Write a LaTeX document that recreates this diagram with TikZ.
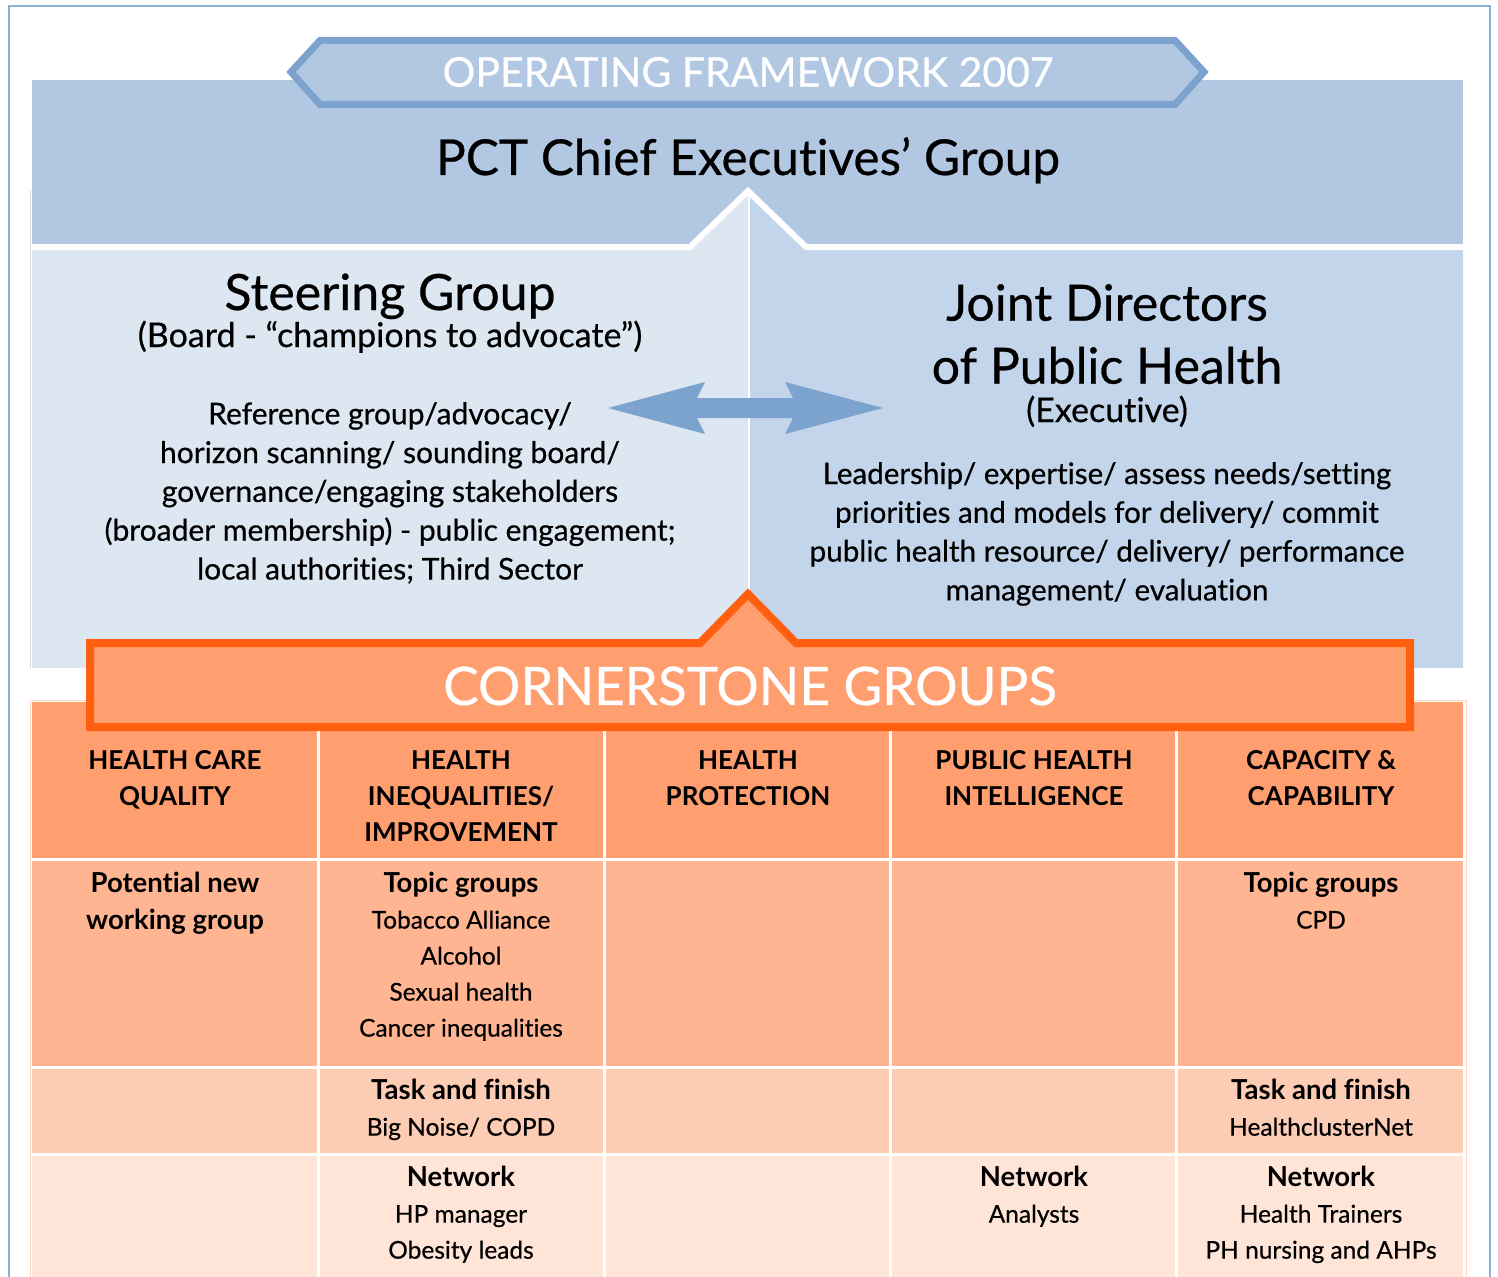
\documentclass[tikz,border=0pt]{standalone}
\usepackage{fontspec}
\setmainfont{Lato}[UprightFeatures={FakeBold=0.5}, Ligatures={NoCommon}]
\definecolor{frameblue}{HTML}{8DB0D8}
\definecolor{topblue}{HTML}{B2C7E1}
\definecolor{hexborder}{HTML}{7BA3CE}
\definecolor{leftpanel}{HTML}{DDE7F2}
\definecolor{rightpanel}{HTML}{C3D5EA}
\definecolor{orangeborder}{HTML}{FF5F0E}
\definecolor{orangefill}{HTML}{FF9E6E}
\definecolor{rowtwo}{HTML}{FFB592}
\definecolor{rowthree}{HTML}{FDCCB4}
\definecolor{rowfour}{HTML}{FEE5D8}
\newcommand\fs[2]{\fontsize{#1}{#2}\selectfont}
\newcommand\celltitlefont{\fontsize{27.5}{36}\selectfont\bfseries}
\begin{document}
\begin{tikzpicture}[x=1pt,y=-1pt,
  txt/.style={inner sep=0pt, text=black},
  mtxt/.style={inner sep=0pt, text=black, align=center, anchor=north},
  headtxt/.style={mtxt, font=\fs{26}{36}\bfseries},
  celltxt/.style={mtxt, font=\fs{24.5}{36}},
  celltitle/.style={font=\fs{27.5}{36.5}\bfseries},
  gridline/.style={white, line width=3pt}
]
\useasboundingbox (0,0) rectangle (1498,1276);
\fill[white] (0,0) rectangle (1498,1276);
% outer frame
\draw[frameblue, line width=2.5pt] (9,6) rectangle (1490,1300);

% top band
\fill[topblue] (32,80) rectangle (1463,247);
% lower panels
\fill[leftpanel] (32,247) -- (690,247) -- (748,191) -- (748,668) -- (32,668) -- cycle;
\fill[rightpanel] (748,191) -- (806,247) -- (1463,247) -- (1463,668) -- (748,668) -- cycle;
\draw[white, line width=6pt, line join=miter] (32,247) -- (690,247) -- (748,191) -- (806,247) -- (1463,247);
\draw[white, line width=2.5pt] (749,193) -- (749,620);
\draw[black!15, line width=0.6pt] (30,190) -- (30,668);

% banner hexagon
\draw[hexborder, fill=topblue, line width=7pt, line join=miter]
  (291,72) -- (320,40.5) -- (1175,40.5) -- (1204,72) -- (1175,104.5) -- (320,104.5) -- cycle;
\node[txt, text=white, font=\fs{41}{44}] (opf) at (748,72) {OPERATING FRAMEWORK 2007};

\node[txt, anchor=base, font=\fs{49.5}{52}] (pct) at (748,175) {PCT Chief Executives’ Group};

% double arrow
\fill[hexborder] (608,408) -- (705,382) -- (697,398) -- (793,398) -- (785,382) -- (883,408)
  -- (785,434) -- (793,418) -- (697,418) -- (705,434) -- cycle;

% steering group
\node[txt, anchor=base, font=\fs{50}{52}] (sgt) at (390,310) {Steering Group};
\node[txt, anchor=base, font=\fs{34}{36}] (sgs) at (390,347) {(Board - “champions to advocate”)};
\node[mtxt, font=\fs{30}{38.8}] (sgb) at (390,402) {Reference group/advocacy/\\horizon scanning/ sounding board/\\governance/engaging stakeholders\\(broader membership) - public engagement;\\local authorities; Third Sector};

% joint directors
\node[mtxt, font=\fs{50}{63}] (jdt) at (1107,284) {Joint Directors\\of Public Health};
\node[txt, anchor=base, font=\fs{34}{36}] (jds) at (1107,422) {(Executive)};
\node[mtxt, font=\fs{29.6}{38.8}] (jdb) at (1107,462) {Leadership/ expertise/ assess needs/setting\\priorities and models for delivery/ commit\\public health resource/ delivery/ performance\\management/ evaluation};

% table
\fill[orangefill] (32,702) rectangle (1463,859);
\fill[rowtwo] (32,859) rectangle (1463,1067);
\fill[rowthree] (32,1067) rectangle (1463,1154);
\fill[rowfour] (32,1154) rectangle (1463,1300);
\draw[orangefill!40, line width=0.8pt] (30,1300) -- (30,700) -- (1466,700) -- (1466,1300);
\foreach \x in {318.2,604.4,890.6,1176.8} \draw[gridline] (\x,702) -- (\x,1300);
\foreach \y in {859,1067,1154} \draw[gridline] (32,\y) -- (1463,\y);

% cornerstone banner
\draw[orangeborder, fill=orangefill, line width=8pt, line join=miter]
  (90,643) -- (700,643) -- (748,594) -- (796,643) -- (1410,643) -- (1410,727) -- (90,727) -- cycle;
\node[txt, text=white, font=\fs{53}{56}] (csg) at (750,686) {CORNERSTONE GROUPS};

% header row
\node[headtxt] (h1) at (175,750) {HEALTH CARE\\QUALITY};
\node[headtxt] (h2) at (461,750) {HEALTH\\INEQUALITIES/\\IMPROVEMENT};
\node[headtxt] (h3) at (748,750) {HEALTH\\PROTECTION};
\node[headtxt] (h4) at (1034,750) {PUBLIC HEALTH\\INTELLIGENCE};
\node[headtxt] (h5) at (1321,750) {CAPACITY \&\\CAPABILITY};

% row 2
\node[mtxt, celltitle] (c21) at (175,872) {Potential new\\working group};
\node[celltxt] (c22) at (461,872) {{\celltitlefont Topic groups}\\Tobacco Alliance\\Alcohol\\Sexual health\\Cancer inequalities};
\node[celltxt] (c25) at (1321,872) {{\celltitlefont Topic groups}\\CPD};
% row 3
\node[celltxt] (c32) at (461,1079) {{\celltitlefont Task and finish}\\Big Noise/ COPD};
\node[celltxt] (c35) at (1321,1079) {{\celltitlefont Task and finish}\\HealthclusterNet};
% row 4
\node[celltxt] (c42) at (461,1166) {{\celltitlefont Network}\\HP manager\\Obesity leads};
\node[celltxt] (c44) at (1034,1166) {{\celltitlefont Network}\\Analysts};
\node[celltxt] (c45) at (1321,1166) {{\celltitlefont Network}\\Health Trainers\\PH nursing and AHPs};
\end{tikzpicture}
\end{document}
